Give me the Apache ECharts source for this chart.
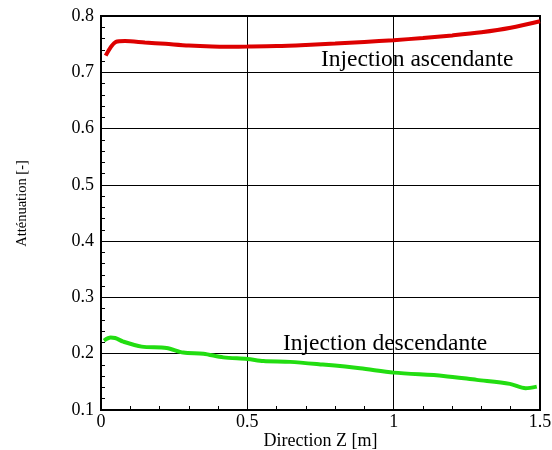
<!DOCTYPE html>
<html>
<head>
<meta charset="utf-8">
<script src="https://cdn.jsdelivr.net/npm/echarts@6/dist/echarts.min.js"></script>
<style>html,body{margin:0;padding:0;background:#fff}#c{width:552px;height:450px}</style>
</head>
<body>
<div id="c"></div>
<script>
const xTicks = ['0', '0.5', '1', '1.5'];
const yTicks = ['0.1', '0.2', '0.3', '0.4', '0.5', '0.6', '0.7', '0.8'];
const ascX = [0.016, 0.051, 0.082, 0.15, 0.22, 0.30, 0.38, 0.44, 0.5, 0.6, 0.7, 0.8, 0.9, 1.0, 1.1, 1.2, 1.3, 1.4, 1.5];
const ascY = [0.7295, 0.754, 0.7556, 0.7530, 0.7505, 0.7475, 0.7458, 0.7455, 0.7457, 0.7465, 0.7485, 0.7510, 0.7540, 0.7570, 0.7610, 0.7655, 0.7710, 0.7790, 0.7906];
const descX = [0.01, 0.033, 0.048, 0.076, 0.139, 0.224, 0.281, 0.35, 0.418, 0.5, 0.555, 0.646, 0.75, 0.885, 1.0, 1.17, 1.284, 1.397, 1.451, 1.489];
const descY = [0.2233, 0.2286, 0.228, 0.2215, 0.2126, 0.2103, 0.202, 0.2, 0.1935, 0.1907, 0.187, 0.1855, 0.181, 0.1742, 0.1664, 0.1606, 0.1535, 0.1464, 0.1387, 0.1415];
const seriesNames = ['Injection ascendante', 'Injection descendante'];

const zip = (xs, ys) => xs.map((x, i) => [x, ys[i]]);
const font = '"Liberation Serif", "DejaVu Serif", serif';

const chart = echarts.init(document.getElementById('c'));
chart.setOption({
  animation: false,
  grid: { left: 101, right: 12, top: 16, bottom: 40, outerBoundsMode: 'none', containLabel: false,
    show: true, borderColor: '#000', borderWidth: 2, backgroundColor: 'transparent' },
  xAxis: {
    type: 'value', min: 0, max: 1.5, interval: 0.5,
    name: 'Direction Z [m]', nameLocation: 'middle', nameGap: 22, nameMoveOverlap: false,
    nameTextStyle: { fontFamily: font, fontSize: 18, color: '#000' },
    axisLine: { show: true, lineStyle: { color: '#000', width: 2 } },
    axisTick: { show: true, inside: true, length: 6, lineStyle: { color: '#000', width: 1 } },
    minorTick: { show: true, splitNumber: 5, length: 4, lineStyle: { color: '#000', width: 1 } },
    splitLine: { show: true, lineStyle: { color: '#000', width: 1 } },
    axisLabel: { fontFamily: font, fontSize: 18, color: '#000', margin: 3,
      formatter: v => xTicks[Math.round(v / 0.5)] }
  },
  yAxis: {
    type: 'value', min: 0.1, max: 0.8, interval: 0.1,
    name: 'Atténuation [-]', nameLocation: 'middle', nameGap: 71, nameRotate: 90,
    nameTextStyle: { fontFamily: font, fontSize: 14.5, color: '#000', padding: [0, 0, 0, 19] },
    axisLine: { show: true, lineStyle: { color: '#000', width: 2 } },
    axisTick: { show: true, inside: true, length: 6, lineStyle: { color: '#000', width: 1 } },
    minorTick: { show: true, splitNumber: 5, length: 4, lineStyle: { color: '#000', width: 1 } },
    splitLine: { show: true, lineStyle: { color: '#000', width: 1 } },
    axisLabel: { fontFamily: font, fontSize: 18, color: '#000', margin: 7,
      formatter: v => yTicks[Math.round((v - 0.1) / 0.1)] }
  },
  series: [
    { name: seriesNames[0], type: 'line', data: zip(ascX, ascY), showSymbol: false, smooth: 0.3,
      lineStyle: { color: '#dd0000', width: 4 } },
    { name: seriesNames[1], type: 'line', data: zip(descX, descY), showSymbol: false, smooth: 0.3,
      lineStyle: { color: '#22dd11', width: 4 } }
  ],
  graphic: [
    { type: 'text', left: 321, top: 48, style: { text: seriesNames[0], font: '23.5px ' + font, fill: '#000' } },
    { type: 'text', left: 283, top: 332, style: { text: seriesNames[1], font: '23.5px ' + font, fill: '#000' } }
  ]
});
</script>
</body>
</html>
